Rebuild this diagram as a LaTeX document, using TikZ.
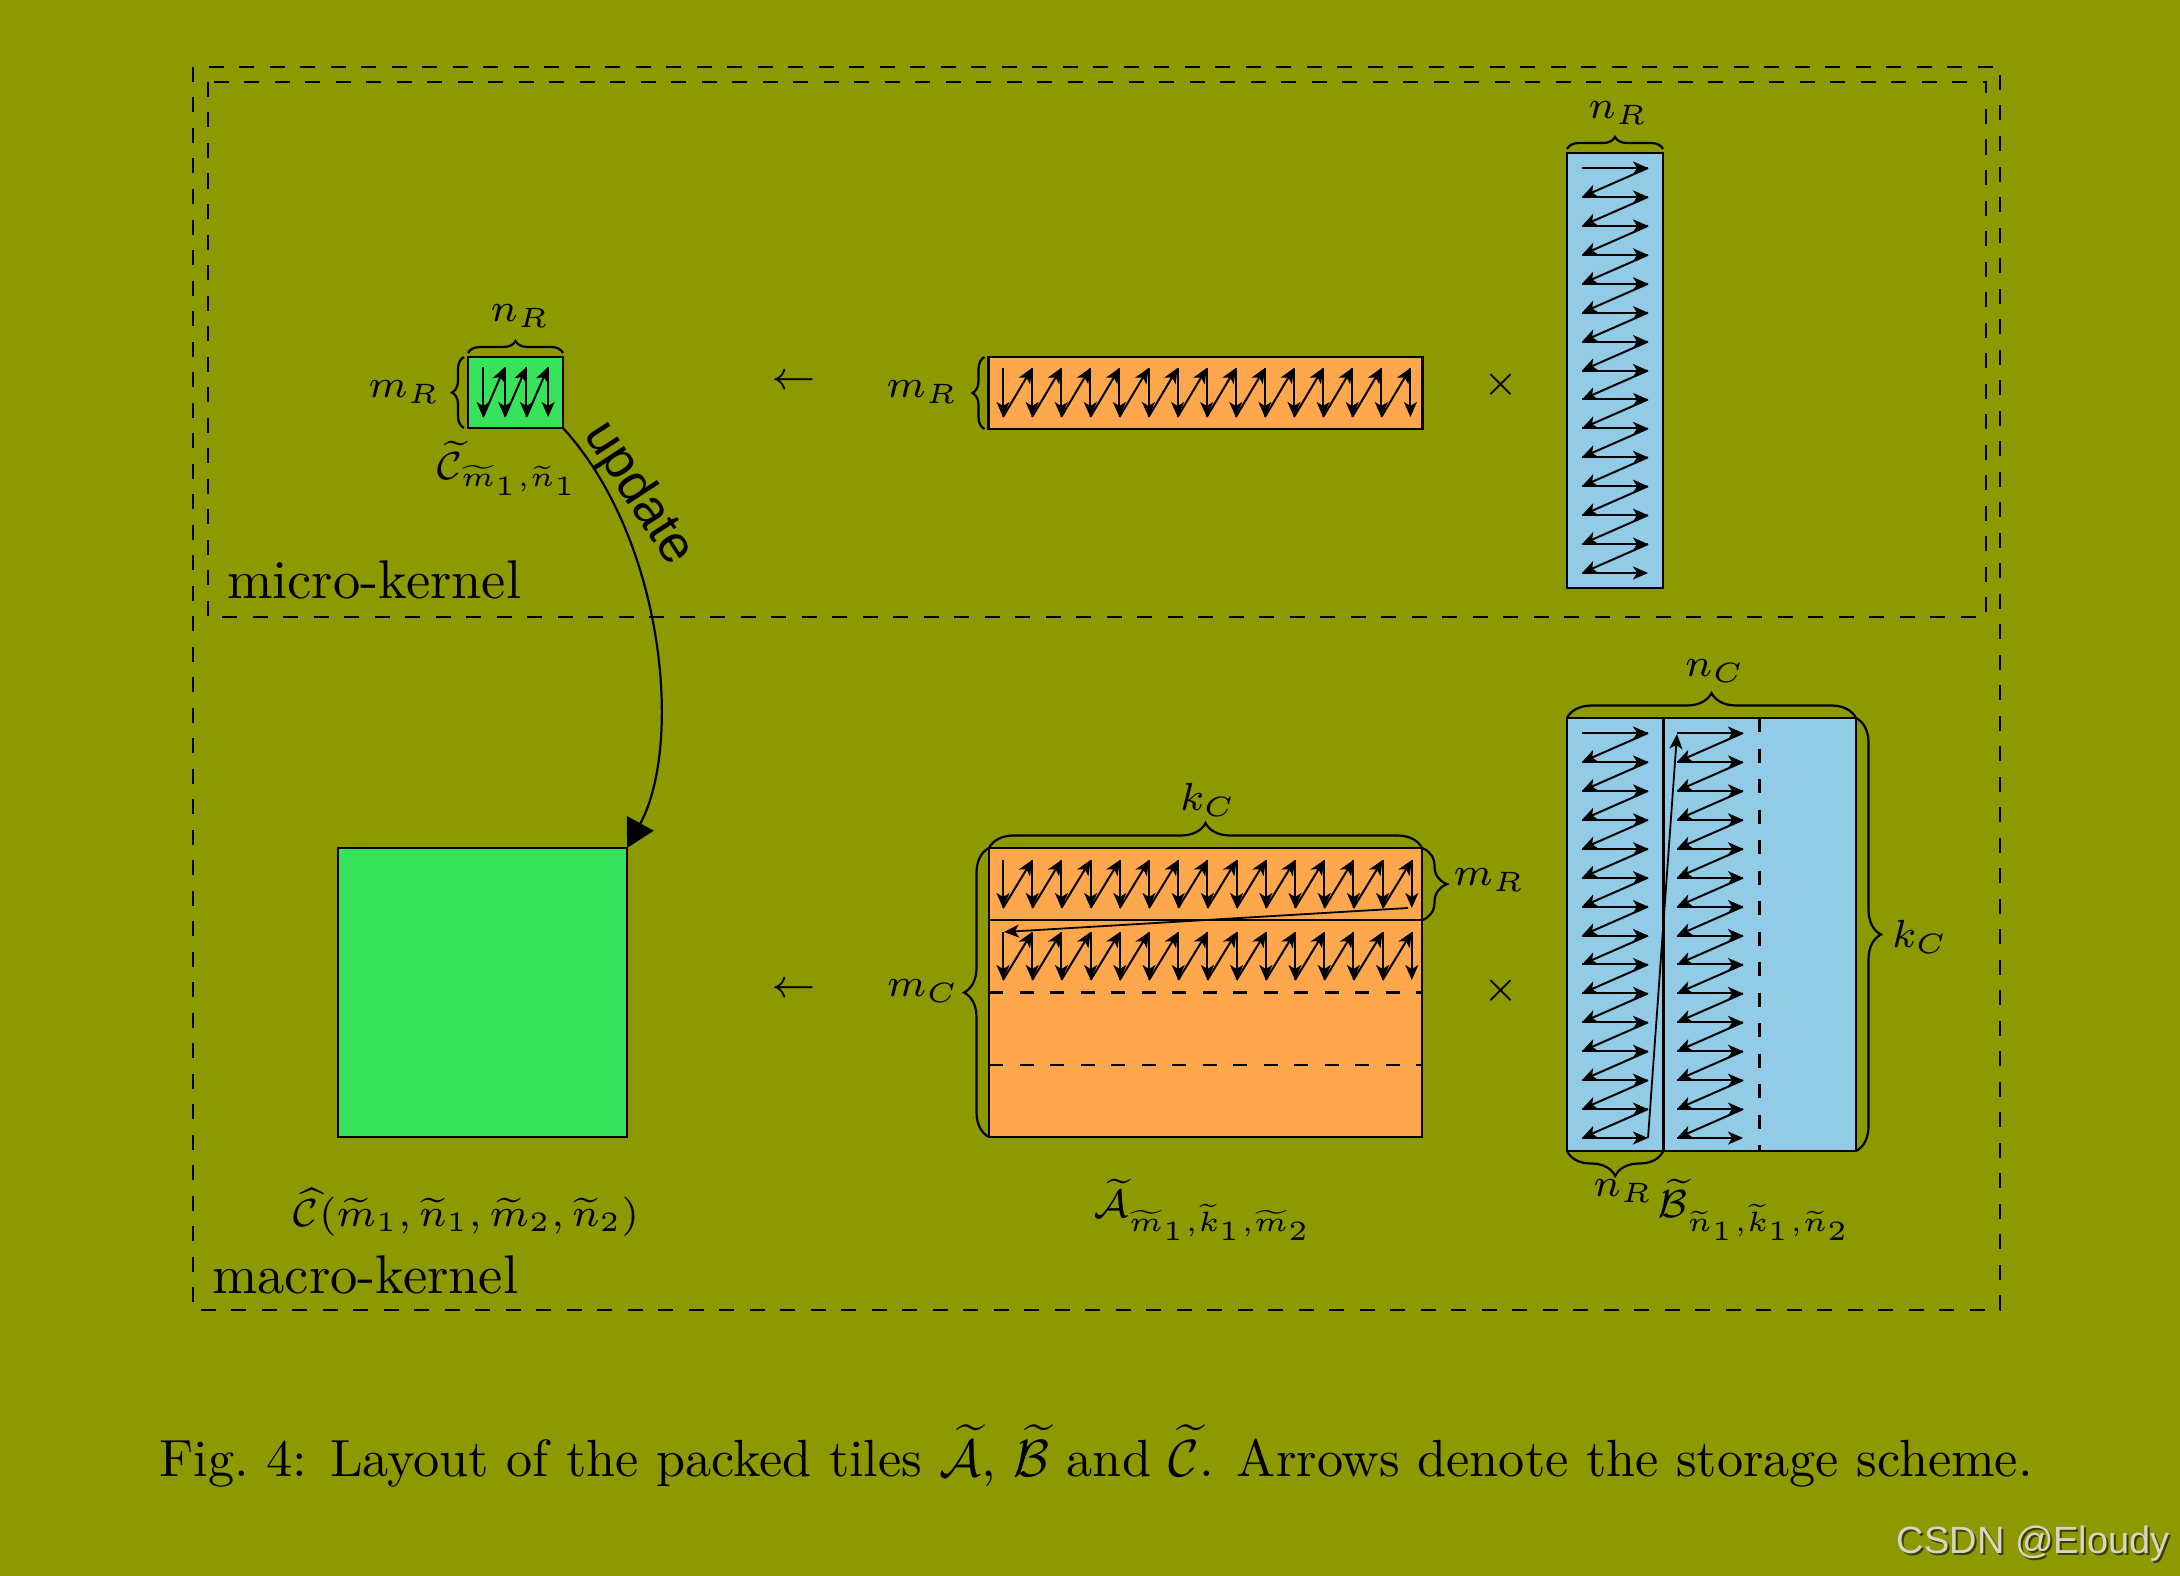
\RequirePackage{fix-cm}
\documentclass[tikz,border=0pt]{standalone}
\usepackage{amsmath}
\usepackage{fontspec}
\newfontfamily\sansf{Liberation Sans}
\usetikzlibrary{arrows.meta,decorations.pathreplacing,calc}
\definecolor{bg}{RGB}{140,153,0}
\definecolor{cgreen}{RGB}{55,227,90}
\definecolor{corange}{RGB}{255,167,77}
\definecolor{cblue}{RGB}{145,203,229}
\definecolor{wm}{RGB}{214,214,196}
\newcommand{\mlab}[1]{\scalebox{5.6}{\fontsize{7}{8}\selectfont$#1$}}
\newcommand{\tlab}[1]{\scalebox{5.45}{\fontsize{10}{12}\selectfont #1}}
\begin{document}
\begin{tikzpicture}[x=1pt,y=-1pt,
  tile/.style={draw=black, line width=2.6pt, inner sep=0pt, outer sep=0pt},
  frame/.style={line width=2.4pt, dash pattern=on 15pt off 15.5pt},
  divline/.style={line width=2.4pt},
  divdash/.style={line width=2.4pt, dash pattern=on 14pt off 16.5pt},
  flow/.style={line width=2pt, -{Stealth[length=15pt,width=13pt,inset=4pt]}},
  mbrace/.style={decorate, decoration={brace, amplitude=12pt, raise=4pt}, line width=2.2pt},
  Mbrace/.style={decorate, decoration={brace, amplitude=25pt}, line width=2.2pt},
  lab/.style={inner sep=0pt},
]
\fill[bg] (0,0) rectangle (2180,1576);
\useasboundingbox (0,0) rectangle (2180,1576);

% frames
\draw[frame] (193,67) rectangle (2000,1310);
\draw[frame] (208,82) rectangle (1986,617);
\node[lab, anchor=base west] (micro) at (227,598) {\tlab{micro-kernel}};
\node[lab, anchor=base west] (macro) at (212,1293) {\tlab{macro-kernel}};

% ---------- micro-kernel ----------
\node[tile, fill=cgreen, minimum width=95pt, minimum height=71pt] (cs) at (515.5,392.5) {};
\foreach \i in {0,1,2} {
  \draw[flow] ({483+21.7*\i},367) -- ({483+21.7*\i},417);
  \draw[flow] ({483+21.7*\i},417) -- ({483+21.7*(\i+1)},367);
}
\draw[flow] (548.1,367) -- (548.1,417);
\draw[mbrace] (cs.north west) -- (cs.north east);
\draw[mbrace] (cs.south west) -- (cs.north west);
\node[lab] (csn) at (520,316) {\mlab{n_R}};
\node[lab, anchor=east] (csm) at (440,392) {\mlab{m_R}};
\node[lab] (csl) at (508,468) {\mlab{\widetilde{\mathcal{C}}_{\widetilde{m}_1,\widetilde{n}_1}}};

\node[lab] (la1) at (794,382) {\mlab{\leftarrow}};

\node[tile, fill=corange, minimum width=434pt, minimum height=72pt] (as) at (1205.5,393) {};
\foreach \i in {0,...,13} {
  \draw[flow] ({1003+29.1*\i},368) -- ({1003+29.1*\i},417);
  \draw[flow] ({1003+29.1*\i},417) -- ({1003+29.1*(\i+1)},368);
}
\draw[flow] (1410.4,368) -- (1410.4,417);
\draw[mbrace] (as.south west) -- (as.north west);
\node[lab, anchor=east] (asm) at (958,392) {\mlab{m_R}};

\node[lab] (tm1) at (1501,385) {\mlab{\times}};

\node[tile, fill=cblue, minimum width=96pt, minimum height=435pt] (bs) at (1615,370.5) {};
\foreach \j in {0,...,13} {
  \draw[flow] (1582,{168+28.93*\j}) -- (1648,{168+28.93*\j});
  \draw[flow] (1648,{168+28.93*\j}) -- (1582,{168+28.93*(\j+1)});
}
\draw[flow] (1582,573) -- (1648,573);
\draw[mbrace] (bs.north west) -- (bs.north east);
\node[lab] (bsn) at (1618,113) {\mlab{n_R}};

% ---------- macro-kernel ----------
\node[tile, fill=cgreen, minimum width=289pt, minimum height=289pt] (CC) at (482.5,992.5) {};
\node[lab] (CCl) at (466,1212) {\mlab{\widehat{\mathcal{C}}(\widetilde{m}_1,\widetilde{n}_1,\widetilde{m}_2,\widetilde{n}_2)}};

\draw[line width=2.2pt, -{Triangle[length=28pt,width=30pt]}]
  (cs.south east) .. controls (665,540) and (683,745) .. (CC.north east);
\node[inner sep=0pt, rotate=-57, font=\sansf\fontsize{52}{62}\selectfont] (upd) at (638,494) {update};

\node[lab] (la2) at (794,990) {\mlab{\leftarrow}};

\node[tile, fill=corange, minimum width=433pt, minimum height=289pt] (AA) at (1205.5,992.5) {};
\draw[divline] ($(AA.north west)!0.25!(AA.south west)$) -- ($(AA.north east)!0.25!(AA.south east)$);
\draw[divdash] ($(AA.north west)!0.5!(AA.south west)$) -- ($(AA.north east)!0.5!(AA.south east)$);
\draw[divdash] ($(AA.north west)!0.75!(AA.south west)$) -- ($(AA.north east)!0.75!(AA.south east)$);
\foreach \r in {860,932} {
  \foreach \i in {0,...,13} {
    \draw[flow] ({1003+29.2*\i},\r) -- ({1003+29.2*\i},\r+48);
    \draw[flow] ({1003+29.2*\i},\r+48) -- ({1003+29.2*(\i+1)},\r);
  }
  \draw[flow] (1411.8,\r) -- (1411.8,\r+48);
}
\draw[flow, line width=1.8pt] (1408,908) -- (1004,932);
\draw[Mbrace] (AA.north west) -- (AA.north east);
\draw[Mbrace] (AA.south west) -- (AA.north west);
\draw[Mbrace] (AA.north east) -- ($(AA.north east)!0.25!(AA.south east)$);
\node[lab] (AAk) at (1208,800) {\mlab{k_C}};
\node[lab] (AAm) at (923,991) {\mlab{m_C}};
\node[lab] (AAr) at (1489,880) {\mlab{m_R}};
\node[lab] (AAl) at (1203,1210) {\mlab{\widetilde{\mathcal{A}}_{\widetilde{m}_1,\widetilde{k}_1,\widetilde{m}_2}}};

\node[lab] (tm2) at (1501,991) {\mlab{\times}};

\node[tile, fill=cblue, minimum width=289pt, minimum height=433pt] (BB) at (1711.5,934.5) {};
\draw[divline] ($(BB.north west)!0.3333!(BB.north east)$) -- ($(BB.south west)!0.3333!(BB.south east)$);
\draw[divdash] ($(BB.north west)!0.6667!(BB.north east)$) -- ($(BB.south west)!0.6667!(BB.south east)$);
\foreach \x in {1582,1677} {
  \foreach \j in {0,...,13} {
    \draw[flow] (\x,{733+28.93*\j}) -- (\x+66,{733+28.93*\j});
    \draw[flow] (\x+66,{733+28.93*\j}) -- (\x,{733+28.93*(\j+1)});
  }
  \draw[flow] (\x,1138) -- (\x+66,1138);
}
\draw[flow, line width=1.8pt] (1648,1138) -- (1677,734);
\draw[Mbrace] (BB.north west) -- (BB.north east);
\draw[Mbrace] (BB.north east) -- (BB.south east);
\draw[Mbrace] ($(BB.south west)!0.3333!(BB.south east)$) -- (BB.south west);
\node[lab] (BBn) at (1715,671) {\mlab{n_C}};
\node[lab] (BBk) at (1920,937) {\mlab{k_C}};
\node[lab] (BBr) at (1623,1191) {\mlab{n_R}};
\node[lab] (BBl) at (1755,1210) {\mlab{\widetilde{\mathcal{B}}_{\widetilde{n}_1,\widetilde{k}_1,\widetilde{n}_2}}};

% caption
\node[lab, anchor=base] (cap) at (1096,1476) {\scalebox{5.23}{\fontsize{10}{12}\selectfont Fig.~4: Layout of the packed tiles $\widetilde{\mathcal{A}}$, $\widetilde{\mathcal{B}}$ and $\widetilde{\mathcal{C}}$. Arrows denote the storage scheme.}};

% watermark
\node[inner sep=0pt, anchor=base east, text=black!60!bg, font=\sansf\fontsize{38}{46}\selectfont] at (2172,1555) {CSDN @Eloudy};
\node[inner sep=0pt, anchor=base east, text=wm, font=\sansf\fontsize{38}{46}\selectfont] (wmk) at (2170,1553) {CSDN @Eloudy};
\end{tikzpicture}
\end{document}
